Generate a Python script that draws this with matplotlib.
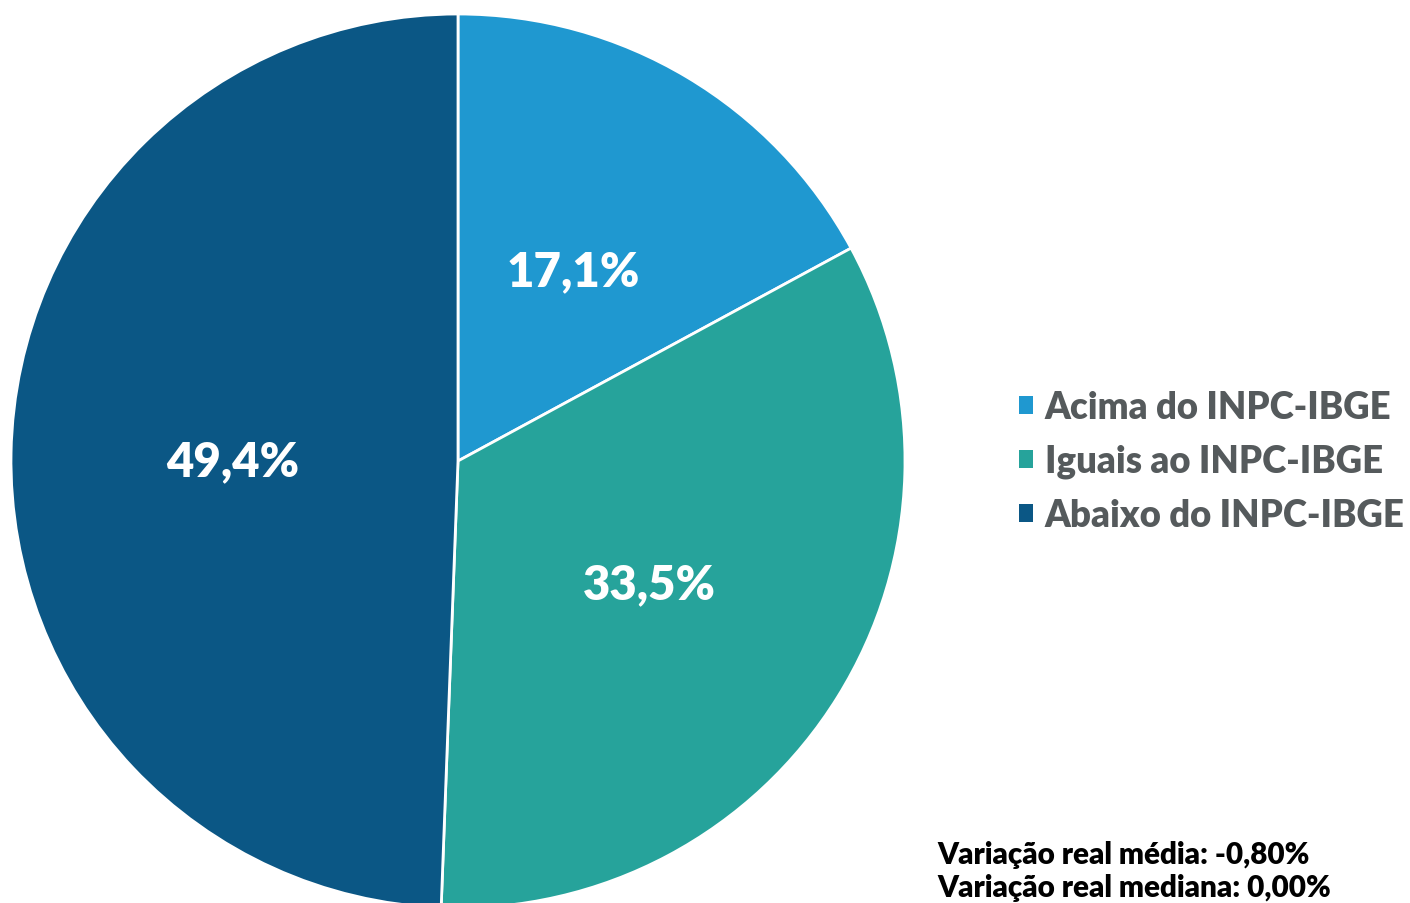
import matplotlib
matplotlib.use("Agg")
import matplotlib.pyplot as plt
from matplotlib.patches import Patch

categories = ["Acima do INPC-IBGE", "Iguais ao INPC-IBGE", "Abaixo do INPC-IBGE"]
values = [17.1, 33.5, 49.4]
labels = ["17,1%", "33,5%", "49,4%"]
colors = ["#1f98d0", "#26a39b", "#0b5785"]
notes = ["Variação real média: -0,80%", "Variação real mediana: 0,00%"]

plt.rcParams['font.family'] = ['Lato', 'DejaVu Sans']

fig = plt.figure(figsize=(14.10, 9.04), dpi=100)
ax = fig.add_axes([0, 0, 1, 1])
ax.set_xlim(0, 1410)
ax.set_ylim(0, 904)
ax.set_aspect('equal')
ax.axis('off')

wedges, texts = ax.pie(values, labels=labels, colors=colors, startangle=90, counterclock=False,
                       center=(458, 904 - 462), radius=447, labeldistance=0.505,
                       wedgeprops=dict(edgecolor='white', linewidth=2),
                       textprops=dict(color='white', fontsize=34, fontweight='heavy',
                                      ha='center', va='center_baseline'))
ax.set_xlim(0, 1410)
ax.set_ylim(0, 904)

handles = [Patch(facecolor=c, edgecolor='none') for c in colors]
leg = fig.legend(handles, categories, loc='center left', bbox_to_anchor=(1019 / 1410, 1 - 462 / 904),
                 frameon=False, fontsize=26.3, handlelength=0.38, handleheight=0.38,
                 handletextpad=0.33, labelspacing=0.55, borderaxespad=0, borderpad=0)
for t in leg.get_texts():
    t.set_color('#555a5c')
    t.set_fontweight('heavy')

fig.text(937 / 1410, 1 - 855 / 904, notes[0], fontsize=21.3, fontweight='heavy', color='black',
         ha='left', va='center')
fig.text(937 / 1410, 1 - 888 / 904, notes[1], fontsize=21.3, fontweight='heavy', color='black',
         ha='left', va='center')

fig.savefig("out.png", dpi=100, facecolor='white')
